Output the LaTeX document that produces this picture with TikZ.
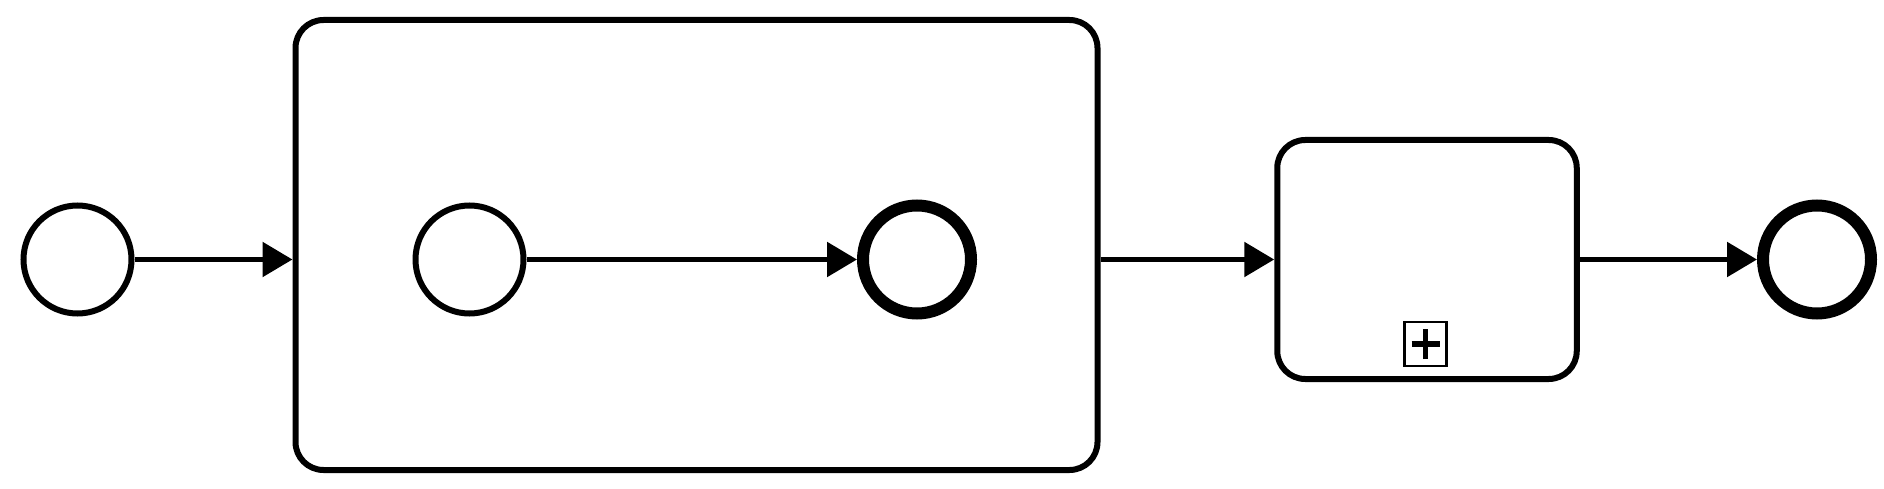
\documentclass[tikz,border=0pt]{standalone}
\usetikzlibrary{arrows.meta}

\tikzset{
    startevent/.style={circle, draw, line width=6pt, fill=white, minimum size=108pt, inner sep=0},
    endevent/.style={circle, draw, line width=12pt, fill=white, minimum size=108pt, inner sep=0},
    subbox/.style={rectangle, draw, line width=6pt, rounded corners=28pt, inner sep=0},
    flow/.style={line width=5.5pt, -{Triangle[length=30pt, width=34pt]}}
}

\begin{document}
\begin{tikzpicture}[x=1pt, y=-1pt]
                \newcommand{\rowy}{259.5}
                \useasboundingbox (0,0) rectangle (1884,489);

                % Draw outer expanded sub process with its inner events
                \node[subbox, minimum width=802pt, minimum height=450pt] (expanded) at (696.5,245) {};
                \node[startevent] (innerstart) at (469.5,\rowy) {};
                \node[endevent] (innerend) at (917,\rowy) {};

                % Draw start, collapsed sub process and end
                \node[startevent] (start) at (77.5,\rowy) {};
                \node[subbox, minimum width=299.5pt, minimum height=239pt] (collapsed) at (1427,\rowy) {};
                \node[draw, line width=2.5pt, minimum width=42pt, minimum height=44pt, inner sep=0] (marker) at ([xshift=-1.5pt,yshift=38pt]collapsed.south) {};
                \draw[line width=5.5pt] ([xshift=-14pt]marker.center) -- ([xshift=14pt]marker.center);
                \draw[line width=5.5pt] ([yshift=-15pt]marker.center) -- ([yshift=15pt]marker.center);
                \node[endevent] (end) at (1817,\rowy) {};

                % Draw sequence flows
                \draw[flow] (start) -- (start -| expanded.west);
                \draw[flow] (innerstart) -- (innerend);
                \draw[flow] (expanded.east |- collapsed.west) -- (collapsed.west);
                \draw[flow] (collapsed) -- (end);
            \end{tikzpicture}
\end{document}
